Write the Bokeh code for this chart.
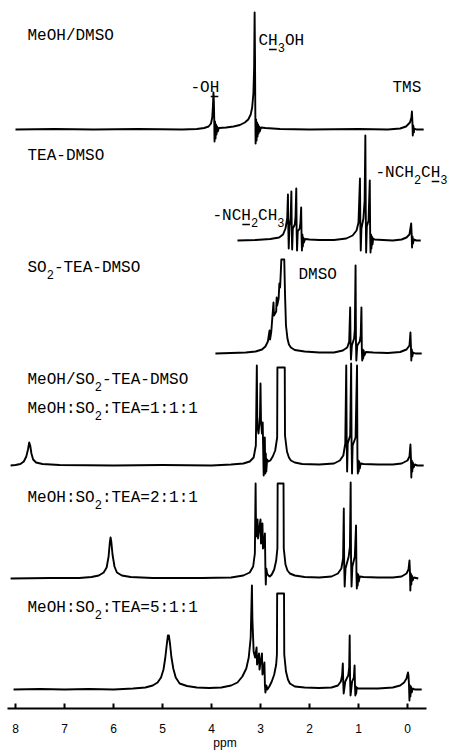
from bokeh.plotting import figure
from bokeh.models import Range1d, FixedTicker
from bokeh.core.properties import value
from bokeh.embed import file_html
from bokeh.resources import INLINE

# ---------------- data (ppm, relative intensity) ----------------
S1_MEOH_DMSO = [
    (8.00, 0), (7.2, 0.5), (6.4, 0), (5.5, 0.5), (4.6, 0), (4.3, 0.5), (4.15, 1.5), (4.06, 3), (4.01, 6),
    (3.985, 12), (3.97, 24), (3.96, 37), (3.952, 28), (3.945, 12), (3.938, -12), (3.928, 8), (3.918, -9),
    (3.908, 5), (3.898, -5), (3.886, 3), (3.872, -2), (3.85, 1.5), (3.7, 2), (3.55, 3), (3.42, 4.5),
    (3.32, 7), (3.25, 10), (3.20, 15), (3.17, 22), (3.145, 36), (3.13, 62), (3.12, 117), (3.112, 72),
    (3.106, 20), (3.10, -14), (3.09, 10), (3.08, -11), (3.07, 7), (3.06, -7), (3.05, 5), (3.04, -4),
    (3.03, 3), (3.015, -2), (2.99, 2), (2.9, 1.5), (2.6, 0.5), (2.0, 0), (1.0, 0.5), (0.4, 0), (0.15, 1),
    (0.03, 3), (-0.05, 7), (-0.08, 12), (-0.09, 18), (-0.10, 8), (-0.108, -6), (-0.118, 4), (-0.128, -3),
    (-0.14, 1), (-0.18, 0), (-0.33, 0)]

S2_TEA_DMSO = [
    (3.47, 0), (3.1, 0.5), (2.8, 1.5), (2.62, 3), (2.54, 6), (2.49, 12), (2.455, 22), (2.44, 46),
    (2.432, 12), (2.424, -8), (2.41, 14), (2.385, 22), (2.37, 49), (2.362, 10), (2.354, -9), (2.34, 12),
    (2.30, 16), (2.285, 24), (2.27, 52), (2.262, 8), (2.254, -10), (2.24, 9), (2.20, 12), (2.185, 18),
    (2.17, 33), (2.162, 4), (2.154, -10), (2.145, 6), (2.136, -6), (2.126, 3), (2.114, -2), (2.09, 1.5),
    (2.0, 1), (1.8, 0.5), (1.5, 0.5), (1.25, 2), (1.12, 5), (1.04, 10), (1.0, 18), (0.97, 62),
    (0.962, 14), (0.954, -10), (0.94, 12), (0.90, 22), (0.875, 40), (0.86, 105), (0.852, 30),
    (0.844, -12), (0.83, 14), (0.795, 20), (0.77, 60), (0.762, 6), (0.754, -12), (0.745, 6),
    (0.736, -8), (0.726, 4), (0.714, -4), (0.70, 2), (0.67, 1), (0.5, 0.5), (0.3, 0), (0.12, 1),
    (0.02, 3), (-0.04, 6), (-0.075, 17), (-0.085, 6), (-0.093, -7), (-0.103, 4), (-0.113, -3),
    (-0.13, 1), (-0.18, 0), (-0.27, 0)]

S3_SO2_TEA_DMSO = [
    (3.92, 0), (3.6, 0.5), (3.3, 1), (3.1, 2), (2.97, 4), (2.9, 7), (2.85, 12), (2.815, 23),
    (2.805, 14), (2.78, 22), (2.735, 51), (2.725, 38), (2.68, 42), (2.67, 56), (2.66, 48), (2.63, 55),
    (2.615, 70), (2.60, 66), (2.585, 82), (2.575, 94), (2.515, 94), (2.50, 60), (2.48, 28), (2.45, 15),
    (2.42, 9), (2.38, 6), (2.3, 3.5), (2.1, 2), (1.8, 1), (1.5, 1), (1.32, 3), (1.23, 6), (1.19, 12),
    (1.17, 46), (1.162, 10), (1.154, -6), (1.135, 8), (1.09, 15), (1.075, 24), (1.06, 88), (1.052, 12),
    (1.044, -7), (1.025, 8), (0.975, 12), (0.955, 18), (0.94, 46), (0.932, 4), (0.924, -7), (0.915, 4),
    (0.905, -5), (0.895, 3), (0.88, -2), (0.85, 1.5), (0.7, 1), (0.4, 0.5), (0.15, 1.5), (0.02, 4),
    (-0.04, 8), (-0.06, 21), (-0.07, 7), (-0.078, -7), (-0.088, 4), (-0.098, -3), (-0.115, 1),
    (-0.16, 0), (-0.29, 0)]

S4_RATIO_111 = [
    (8.10, 0), (8.0, 0.5), (7.9, 1.5), (7.83, 4), (7.78, 9), (7.745, 16), (7.72, 23), (7.70, 20),
    (7.675, 12), (7.64, 6), (7.58, 3), (7.45, 1.5), (7.1, 0.5), (6.0, 0), (5.0, 0.5), (4.0, 0),
    (3.6, 1), (3.35, 2), (3.22, 4), (3.14, 8), (3.095, 20), (3.075, 100), (3.065, 40), (3.04, 32),
    (3.01, 50), (3.00, 82), (2.99, 45), (2.97, 32), (2.955, 43), (2.945, 15), (2.935, -10), (2.925, 18),
    (2.912, 28), (2.902, -8), (2.892, 12), (2.882, -6), (2.865, 6), (2.84, 4), (2.80, 5), (2.75, 9),
    (2.70, 15), (2.66, 28), (2.655, 98), (2.505, 98), (2.50, 30), (2.46, 14), (2.42, 8), (2.38, 5),
    (2.3, 3), (2.15, 1.5), (1.8, 1), (1.5, 2), (1.38, 5), (1.31, 10), (1.27, 22), (1.25, 100),
    (1.242, 30), (1.232, -6), (1.22, 22), (1.17, 30), (1.15, 102), (1.142, 25), (1.132, -8), (1.12, 20),
    (1.06, 28), (1.03, 100), (1.022, 8), (1.014, -8), (1.005, 5), (0.996, -6), (0.986, 4),
    (0.974, -3), (0.955, 2), (0.9, 1.5), (0.6, 1), (0.3, 1), (0.12, 2), (0.0, 5), (-0.04, 9),
    (-0.06, 21), (-0.07, 8), (-0.078, -12), (-0.088, 5), (-0.098, -6), (-0.108, 3), (-0.125, -2),
    (-0.15, 1), (-0.2, 0), (-0.33, 0)]

S5_RATIO_211 = [
    (8.10, 0), (7.3, 0.5), (6.7, 0.5), (6.45, 1.5), (6.3, 3), (6.2, 6), (6.14, 11), (6.10, 22),
    (6.075, 36), (6.06, 41), (6.045, 37), (6.02, 24), (5.98, 12), (5.93, 6), (5.83, 3), (5.65, 1.5),
    (5.2, 0.5), (4.2, 0.5), (3.6, 1), (3.35, 3), (3.22, 6), (3.15, 12), (3.115, 25), (3.10, 95),
    (3.09, 42), (3.075, 45), (3.06, 59), (3.05, 40), (3.03, 48), (3.00, 59), (2.99, 35), (2.975, 44),
    (2.96, 55), (2.95, 30), (2.93, 34), (2.91, 45), (2.90, 10), (2.892, -6), (2.882, 10), (2.865, 5),
    (2.84, 3), (2.81, 2), (2.77, 4), (2.72, 9), (2.68, 18), (2.655, 30), (2.65, 95), (2.53, 95),
    (2.525, 30), (2.49, 14), (2.45, 8), (2.40, 5), (2.3, 3), (2.1, 1.5), (1.8, 1), (1.55, 2),
    (1.42, 5), (1.35, 10), (1.315, 20), (1.30, 70), (1.292, 15), (1.282, -8), (1.265, 10), (1.20, 22),
    (1.175, 32), (1.16, 96), (1.152, 20), (1.142, -8), (1.125, 12), (1.075, 22), (1.05, 53),
    (1.042, 6), (1.034, -10), (1.025, 5), (1.016, -7), (1.006, 4), (0.994, -3), (0.975, 2), (0.9, 1.5),
    (0.6, 1), (0.3, 1), (0.12, 2), (0.02, 5), (-0.02, 9), (-0.04, 18), (-0.05, 7), (-0.058, -12),
    (-0.068, 5), (-0.078, -6), (-0.088, 3), (-0.105, -2), (-0.13, 1), (-0.22, 0)]

S6_RATIO_511 = [
    (8.04, 0), (7.5, 0.5), (7.0, 0), (6.5, 0.5), (6.0, 0), (5.6, 1), (5.35, 2), (5.2, 4), (5.1, 7),
    (5.03, 12), (4.98, 20), (4.945, 31), (4.915, 44), (4.89, 54), (4.87, 54), (4.845, 45), (4.82, 33),
    (4.78, 21), (4.73, 12), (4.65, 6), (4.5, 3.5), (4.3, 2), (4.05, 1.5), (3.8, 2), (3.6, 4),
    (3.47, 7), (3.37, 13), (3.29, 21), (3.24, 32), (3.20, 52), (3.175, 104), (3.165, 70), (3.14, 38),
    (3.11, 32), (3.08, 42), (3.07, 25), (3.05, 29), (3.03, 36), (3.02, 20), (3.00, 27), (2.97, 36),
    (2.96, 15), (2.94, 19), (2.92, 27), (2.91, 5), (2.90, -3), (2.88, 4), (2.86, 0), (2.82, 3),
    (2.77, 8), (2.72, 15), (2.68, 25), (2.665, 35), (2.66, 96), (2.52, 96), (2.515, 35), (2.48, 18),
    (2.44, 10), (2.40, 6), (2.3, 3), (2.1, 2), (1.8, 1.5), (1.55, 2), (1.42, 4), (1.36, 8),
    (1.335, 14), (1.32, 26), (1.312, 8), (1.302, -4), (1.27, 8), (1.21, 14), (1.19, 22), (1.18, 54),
    (1.172, 10), (1.162, -6), (1.13, 8), (1.095, 12), (1.08, 24), (1.072, 4), (1.064, -6),
    (1.055, 3), (1.046, -4), (1.036, 2), (1.01, 1), (0.9, 1), (0.6, 1), (0.3, 2), (0.15, 4),
    (0.07, 7), (0.02, 11), (-0.01, 17), (-0.02, 14), (-0.03, 5), (-0.04, -11), (-0.05, 4),
    (-0.06, -7), (-0.07, 3), (-0.085, -3), (-0.11, 1), (-0.15, 0), (-0.29, 0)]

SPECTRA = [S1_MEOH_DMSO, S2_TEA_DMSO, S3_SO2_TEA_DMSO, S4_RATIO_111, S5_RATIO_211, S6_RATIO_511]
TICKS = [0, 1, 2, 3, 4, 5, 6, 7, 8]

# ---------------- layout (picture-pixel based) ----------------
BASELINES = [129, 240, 353, 465, 578, 689]   # vertical stacking of traces
PX0, PX_PER_PPM = 407.0, 49.0                # x of 0 ppm, scale
AXIS_Y = 708


def ppm_at(px):
    return (PX0 - px) / PX_PER_PPM


W, H = 449, 756
p = figure(width=W, height=H, output_backend="svg", toolbar_location=None,
           x_range=Range1d(ppm_at(0), ppm_at(W)), y_range=Range1d(AXIS_Y, 0),
           x_axis_location="below", y_axis_location=None,
           min_border_left=0, min_border_right=0, min_border_top=0,
           min_border_bottom=H - AXIS_Y,
           background_fill_color="white", border_fill_color="white")
p.outline_line_color = None
p.grid.visible = False

ax = p.xaxis[0]
ax.ticker = FixedTicker(ticks=TICKS)
ax.bounds = (ppm_at(426), ppm_at(7))
ax.axis_line_width = 2
ax.axis_line_color = "black"
ax.major_tick_in = 5
ax.major_tick_out = 0
ax.major_tick_line_width = 2
ax.minor_tick_line_color = None
ax.major_label_standoff = 15
ax.major_label_text_font = "Liberation Sans"
ax.major_label_text_font_size = "12px"
ax.major_label_text_color = "black"
ax.axis_label = "ppm"
ax.axis_label_text_font = "Liberation Sans"
ax.axis_label_text_font_style = "normal"
ax.axis_label_text_font_size = "12px"
ax.axis_label_text_color = "black"
ax.axis_label_standoff = 0

for base, pts in zip(BASELINES, SPECTRA):
    xs = [q[0] for q in pts]
    ys = [base - q[1] for q in pts]
    p.line(xs, ys, line_color="black", line_width=1.9, line_join="round")

# ---------------- labels ----------------
FONT = value("Liberation Mono")
FS, SFS = 16, 12
ADV, SADV = 0.6 * FS, 0.6 * SFS


def label(x0, yc, parts):
    x = x0
    for txt, kind in parts:
        if kind == "s":
            p.text(x=[ppm_at(x)], y=[yc + 7], text=[txt], text_font=FONT,
                   text_font_size=f"{SFS}px", text_baseline="middle", text_align="left",
                   text_color="black")
            x += SADV * len(txt)
        else:
            p.text(x=[ppm_at(x)], y=[yc], text=[txt], text_font=FONT,
                   text_font_size=f"{FS}px", text_baseline="middle", text_align="left",
                   text_color="black")
            if kind == "u":
                p.segment(x0=[ppm_at(x + 1)], y0=[yc + 9], x1=[ppm_at(x + ADV * len(txt) - 1)],
                          y1=[yc + 9], line_color="black", line_width=1.3)
            x += ADV * len(txt)


label(27, 35, [("MeOH/DMSO", "n")])
label(190, 87, [("-O", "n"), ("H", "u")])
label(258, 40, [("C", "n"), ("H", "u"), ("3", "s"), ("OH", "n")])
label(392, 87, [("TMS", "n")])
label(27, 155, [("TEA-DMSO", "n")])
label(212, 215, [("-NC", "n"), ("H", "u"), ("2", "s"), ("CH", "n"), ("3", "s")])
label(375, 172, [("-NCH", "n"), ("2", "s"), ("C", "n"), ("H", "u"), ("3", "s")])
label(27, 267, [("SO", "n"), ("2", "s"), ("-TEA-DMSO", "n")])
label(298, 274, [("DMSO", "n")])
label(27, 379, [("MeOH/SO", "n"), ("2", "s"), ("-TEA-DMSO", "n")])
label(27, 408, [("MeOH:SO", "n"), ("2", "s"), (":TEA=1:1:1", "n")])
label(27, 497, [("MeOH:SO", "n"), ("2", "s"), (":TEA=2:1:1", "n")])
label(27, 607, [("MeOH:SO", "n"), ("2", "s"), (":TEA=5:1:1", "n")])

open("out.html", "w").write(file_html(p, INLINE))
